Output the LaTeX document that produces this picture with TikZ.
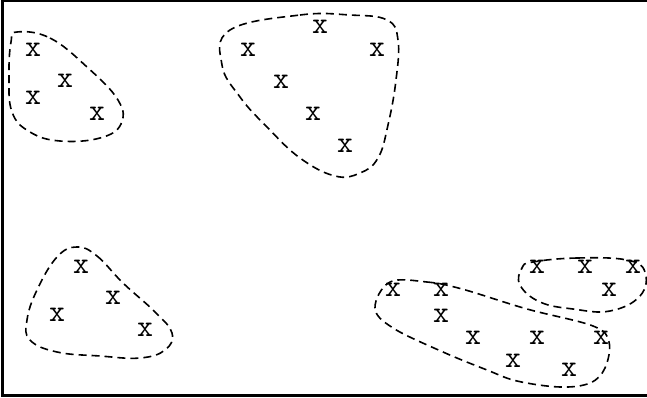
\documentclass[tikz,border=0pt]{standalone}
\begin{document}
\begin{tikzpicture}[x=1pt,y=-1pt,
  pt/.style={inner sep=0pt,font=\ttfamily\fontsize{31}{31}\selectfont},
  blob/.style={dash pattern=on 8pt off 5pt,line width=1.6pt},
  frameline/.style={line width=2.2pt}]
\useasboundingbox (0,0) rectangle (647,397);
\coordinate (tl) at (2.5,1);
\coordinate (tr) at (647,1);
\coordinate (bl) at (2.5,395.5);
\coordinate (br) at (647,395.5);
\draw[frameline] (tr) -- (tl) -- (bl) -- (br);
% cluster 1
\foreach \n/\x/\y in {a1/33/50,a2/65/81,a3/33/98,a4/97/114}
  \node[pt] (\n) at (\x,\y) {x};
\draw[blob] plot[smooth cycle,tension=0.7] coordinates {(17,32) (50,38) (87,67) (118,100) (121,124) (100,138) (60,141) (30,132) (12,112) (9,75) (11,42)};
% cluster 2
\foreach \n/\x/\y in {b1/320/27,b2/248/50,b3/377/50,b4/281/82,b5/313/114,b6/345/146}
  \node[pt] (\n) at (\x,\y) {x};
\draw[blob] plot[smooth cycle,tension=0.7] coordinates {(230,30) (300,15) (350,15) (387,20) (398,40) (396,80) (388,125) (378,158) (360,173) (335,176) (300,158) (267,127) (240,97) (222,65)};
% cluster 3
\foreach \n/\x/\y in {c1/81/267,c2/113/298,c3/57/315,c4/145/330}
  \node[pt] (\n) at (\x,\y) {x};
\draw[blob] plot[smooth cycle,tension=0.7] coordinates {(77,247) (97,256) (123,283) (155,312) (172,333) (165,350) (140,358) (100,356) (57,352) (30,340) (27,320) (37,290) (57,257)};
% cluster 4
\foreach \n/\x/\y in {d1/393/290,d2/441/290,d3/441/316,d4/473/338,d5/537/338,d6/601/338,d7/513/361,d8/569/370}
  \node[pt] (\n) at (\x,\y) {x};
\draw[blob] plot[smooth cycle,tension=0.6] coordinates {(390,282) (427,282) (462,289) (527,309) (593,326) (609,342) (605,368) (590,383) (560,387) (517,381) (487,370) (443,352) (393,328) (375,308)};
% cluster 5
\foreach \n/\x/\y in {e1/537/267,e2/585/267,e3/633/267,e4/609/290}
  \node[pt] (\n) at (\x,\y) {x};
\draw[blob] plot[smooth cycle,tension=0.7] coordinates {(533,262) (577,258) (627,260) (645,272) (640,296) (610,311) (573,309) (540,302) (520,285) (522,268)};
\end{tikzpicture}
\end{document}
